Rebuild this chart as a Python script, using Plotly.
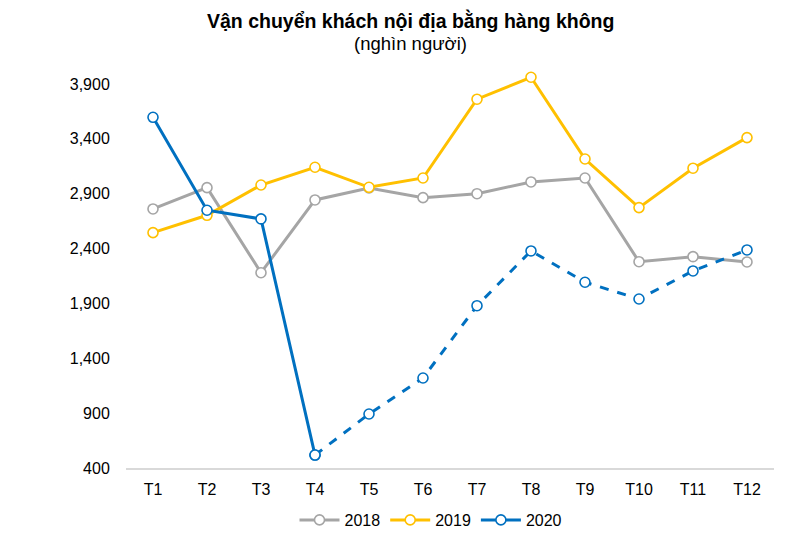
import plotly.graph_objects as go

months = ["T1", "T2", "T3", "T4", "T5", "T6", "T7", "T8", "T9", "T10", "T11", "T12"]
y2018 = [2761, 2955, 2180, 2843, 2952, 2864, 2900, 3007, 3043, 2280, 2326, 2278]
y2019 = [2545, 2703, 2979, 3141, 2958, 3043, 3761, 3961, 3216, 2773, 3132, 3411]
y2020 = [3596, 2749, 2670, 518, 892, 1220, 1879, 2378, 2093, 1940, 2196, 2387]
y_ticks = [400, 900, 1400, 1900, 2400, 2900, 3400, 3900]

GRAY = "#A5A5A5"
YELLOW = "#FFC000"
BLUE = "#0070C0"

def marker(color):
    return dict(symbol="circle", size=10, color="white", line=dict(color=color, width=1.6))

fig = go.Figure()
fig.add_trace(go.Scatter(x=months, y=y2018, name="2018", mode="lines+markers",
                         line=dict(color=GRAY, width=3), marker=marker(GRAY)))
fig.add_trace(go.Scatter(x=months, y=y2019, name="2019", mode="lines+markers",
                         line=dict(color=YELLOW, width=3), marker=marker(YELLOW)))
fig.add_trace(go.Scatter(x=months[:4], y=y2020[:4], name="2020", mode="lines+markers",
                         line=dict(color=BLUE, width=3), marker=marker(BLUE)))
fig.add_trace(go.Scatter(x=months[3:], y=y2020[3:], name="2020", mode="lines+markers",
                         showlegend=False,
                         line=dict(color=BLUE, width=3, dash="dash"), marker=marker(BLUE)))

L, R, T, B = 118, 44, 54, 83
PW = 810 - L - R
PH = 543 - T - B
title_x = (402 - L) / PW
fig.add_annotation(text="<b>Vận chuyển khách nội địa bằng hàng không</b>",
                   xref="paper", yref="paper", x=title_x, y=1, xanchor="center", yanchor="middle",
                   showarrow=False, font=dict(size=19.5, color="#000000"),
                   yshift=42)
fig.add_annotation(text="(nghìn người)",
                   xref="paper", yref="paper", x=title_x, y=1, xanchor="center", yanchor="middle",
                   showarrow=False, font=dict(size=18.5, color="#000000"),
                   yshift=19)

fig.update_layout(
    width=810, height=543,
    margin=dict(l=L, r=R, t=T, b=B, autoexpand=False),
    paper_bgcolor="white", plot_bgcolor="white",
    font=dict(family="Liberation Sans, Arial, sans-serif", size=16, color="#000000"),
    showlegend=True,
    legend=dict(orientation="h", x=(423 - L) / PW, xanchor="center",
                y=-(495 - (543 - B)) / PH, yanchor="top",
                font=dict(size=16), itemwidth=40),
    xaxis=dict(range=[-0.5, 11.5], showgrid=False, showline=True, linecolor="#D9D9D9",
               linewidth=1.5, ticks="outside", ticklen=6, tickcolor="rgba(0,0,0,0)",
               tickfont=dict(size=16), zeroline=False, automargin=False),
    yaxis=dict(range=[400, 4100], tickvals=y_ticks, tickformat=",d", showgrid=False,
               showline=False, zeroline=False, ticks="outside", ticklen=12,
               tickcolor="rgba(0,0,0,0)", tickfont=dict(size=16), automargin=False),
)

fig.write_html("out.html")
